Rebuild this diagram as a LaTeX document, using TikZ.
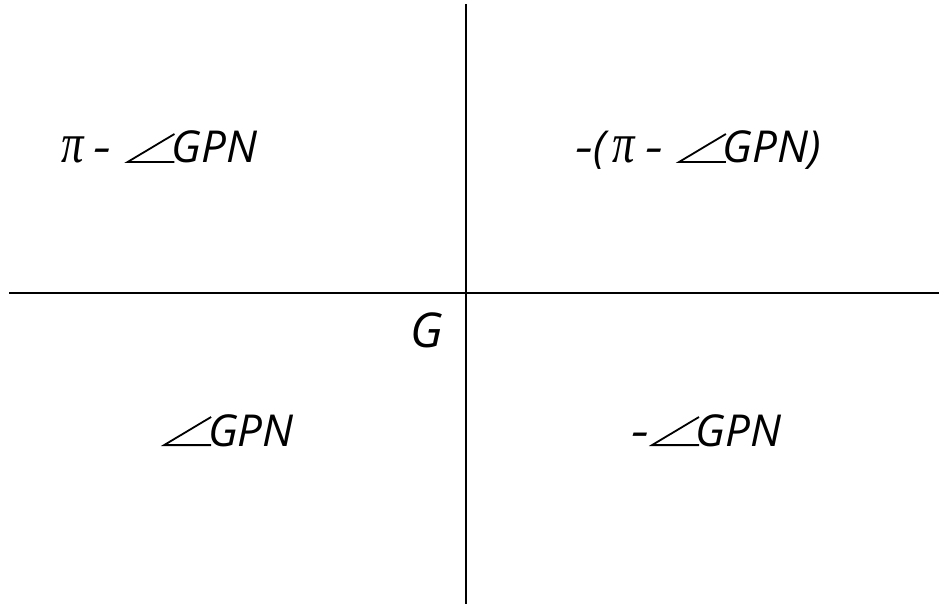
\documentclass[tikz,border=0pt]{standalone}
\usepackage{fontspec}
\setmainfont{Open Sans}
\newfontfamily\pifont{Liberation Serif}
\newcommand{\mypi}{\scalebox{0.8}[1]{\pifont\itshape\fontsize{56}{60}\selectfont π}}
\newcommand{\myhy}{\scalebox{1.3}[1]{-}}
\newcommand{\myang}{\tikz[baseline=0pt,x=1pt,y=1pt]\draw[line width=1.8pt,line join=miter] (47,29) -- (0,0.9) -- (47,0.9);}
\begin{document}
\begin{tikzpicture}[x=1pt,y=-1pt,
  lbl/.style={font=\fontsize{44}{50}\selectfont\itshape, inner sep=0pt, anchor=base west},
  axis/.style={line width=2pt, black}]
\useasboundingbox (0,0) rectangle (939,604);
\coordinate (vt) at (466,4);
\coordinate (vb) at (466,604);
\coordinate (hl) at (9,292.5);
\coordinate (hr) at (939,292.5);
\draw[axis] (vt) -- (vb);
\draw[axis] (hl) -- (hr);
\node[lbl] (q2) at (61,163) {\mypi\hspace{10pt}\myhy\hspace{15pt}\myang\hspace{-4pt}GPN};
\node[lbl] (q1) at (575,163) {\myhy(\hspace{7pt}\mypi\hspace{10pt}\myhy\hspace{15pt}\myang\hspace{-4pt}GPN)};
\node[lbl,font=\fontsize{48}{50}\selectfont\itshape] (g) at (410,347) {G};
\node[lbl] (q3) at (163,446) {\myang\hspace{-4pt}GPN};
\node[lbl] (q4) at (631,446) {\myhy\hspace{2pt}\myang\hspace{-4pt}GPN};
\end{tikzpicture}
\end{document}
